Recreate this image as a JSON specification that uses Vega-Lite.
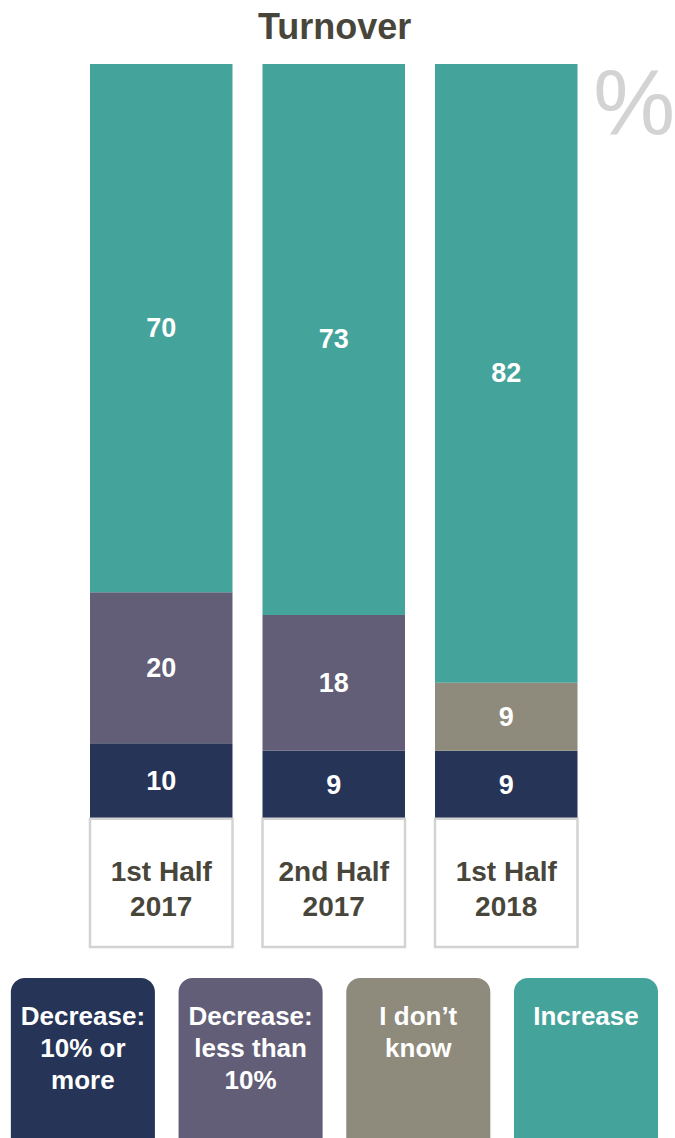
{
  "$schema": "https://vega.github.io/schema/vega-lite/v6.json",
  "padding": {"left": 0, "right": 0, "top": 9, "bottom": 0},
  "background": "white",
  "config": {"view": {"stroke": null}, "font": "Liberation Sans"},
  "title": {
    "text": "Turnover",
    "font": "Liberation Sans",
    "fontSize": 36,
    "fontWeight": "bold",
    "color": "#48463B",
    "anchor": "middle",
    "dx": -3,
    "offset": 13
  },
  "datasets": {
    "bars": [
      {"period": "1st Half 2017", "response": "Decrease: 10% or more", "value": 10},
      {"period": "1st Half 2017", "response": "Decrease: less than 10%", "value": 20},
      {"period": "1st Half 2017", "response": "Increase", "value": 70},
      {"period": "2nd Half 2017", "response": "Decrease: 10% or more", "value": 9},
      {"period": "2nd Half 2017", "response": "Decrease: less than 10%", "value": 18},
      {"period": "2nd Half 2017", "response": "Increase", "value": 73},
      {"period": "1st Half 2018", "response": "Decrease: 10% or more", "value": 9},
      {"period": "1st Half 2018", "response": "I don’t know", "value": 9},
      {"period": "1st Half 2018", "response": "Increase", "value": 82}
    ],
    "periods": [
      {"period": "1st Half 2017", "label": "1st Half\n2017"},
      {"period": "2nd Half 2017", "label": "2nd Half\n2017"},
      {"period": "1st Half 2018", "label": "1st Half\n2018"}
    ],
    "legend": [
      {"response": "Decrease: 10% or more", "label": "Decrease:\n10% or\nmore"},
      {"response": "Decrease: less than 10%", "label": "Decrease:\nless than\n10%"},
      {"response": "I don’t know", "label": "I don’t\nknow"},
      {"response": "Increase", "label": "Increase"}
    ]
  },
  "resolve": {"scale": {"x": "independent", "y": "independent"}},
  "spacing": 29,
  "vconcat": [
    {
      "width": 675,
      "height": 883,
      "layer": [
        {
          "data": {"name": "bars"},
          "mark": {"type": "bar", "cornerRadius": 0},
          "encoding": {
            "x": {"field": "period", "type": "nominal", "axis": null,
                  "sort": ["1st Half 2017", "2nd Half 2017", "1st Half 2018"],
                  "scale": {"domain": ["1st Half 2017", "2nd Half 2017", "1st Half 2018"], "paddingInner": 0.174, "paddingOuter": 0.5435, "align": 0.48}},
            "y": {"field": "value", "type": "quantitative", "stack": "zero", "axis": null,
                  "scale": {"domain": [-17, 100], "nice": false, "zero": false}},
            "color": {"field": "response", "type": "nominal", "legend": null,
                      "scale": {"domain": ["Decrease: 10% or more", "Decrease: less than 10%", "I don’t know", "Increase"],
                                "range": ["#253457", "#635E77", "#8E8B7C", "#44A39A"]}},
            "order": {"field": "response", "sort": "ascending"}
          }
        },
        {
          "data": {"name": "bars"},
          "mark": {"type": "text", "font": "Liberation Sans", "fontSize": 27, "fontWeight": "bold", "color": "white", "baseline": "middle", "align": "center", "dy": 1},
          "encoding": {
            "x": {"field": "period", "type": "nominal"},
            "y": {"field": "value", "type": "quantitative", "stack": "zero", "bandPosition": 0.5},
            "detail": {"field": "response"},
            "order": {"field": "response", "sort": "ascending"},
            "text": {"field": "value", "type": "quantitative"}
          }
        },
        {
          "data": {"name": "periods"},
          "mark": {"type": "rect", "fill": "white", "stroke": "#D3D3D3", "strokeWidth": 2.5},
          "encoding": {
            "x": {"field": "period", "type": "nominal"},
            "y": {"datum": 0},
            "y2": {"datum": -17}
          }
        },
        {
          "data": {"name": "periods"},
          "mark": {"type": "text", "font": "Liberation Sans", "fontSize": 28, "fontWeight": "bold", "color": "#48463B", "baseline": "middle", "align": "center", "lineBreak": "\n", "lineHeight": 35},
          "encoding": {
            "x": {"field": "period", "type": "nominal"},
            "y": {"datum": -7.2},
            "text": {"field": "label"}
          }
        },
        {
          "data": {"values": [{"sign": "%"}]},
          "mark": {"type": "text", "font": "Liberation Sans", "fontSize": 92, "fontWeight": "normal", "color": "#D3D3D3", "baseline": "middle", "align": "center", "dx": 128},
          "encoding": {
            "x": {"datum": "1st Half 2018"},
            "y": {"datum": 94.5},
            "text": {"field": "sign"}
          }
        }
      ]
    },
    {
      "width": 675,
      "height": 160,
      "data": {"name": "legend"},
      "layer": [
        {
          "mark": {"type": "rect", "cornerRadiusTopLeft": 14, "cornerRadiusTopRight": 14},
          "encoding": {
            "x": {"field": "response", "type": "nominal", "axis": null,
                  "scale": {"domain": ["Decrease: 10% or more", "Decrease: less than 10%", "I don’t know", "Increase"], "paddingInner": 0.141, "paddingOuter": 0.083, "align": 0.39}},
            "color": {"field": "response", "type": "nominal", "legend": null}
          }
        },
        {
          "mark": {"type": "text", "font": "Liberation Sans", "fontSize": 26, "fontWeight": "bold", "color": "white", "baseline": "top", "align": "center", "lineBreak": "\n", "lineHeight": 32, "dy": -54},
          "encoding": {
            "x": {"field": "response", "type": "nominal"},
            "text": {"field": "label"}
          }
        }
      ]
    }
  ]
}
